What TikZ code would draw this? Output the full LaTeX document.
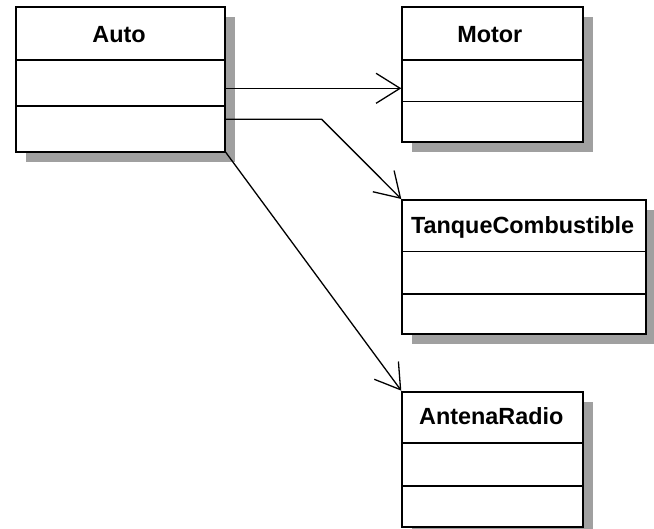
\documentclass[tikz,border=0pt]{standalone}
\usepackage{fontspec}
\setmainfont{Liberation Sans}
\usetikzlibrary{arrows.meta,shadows}
\definecolor{shadowgray}{RGB}{160,160,160}
\begin{document}
\begin{tikzpicture}[x=1pt,y=-1pt,
  umlclass/.style={draw=black, line width=2pt, fill=white, anchor=north west,
    inner sep=0pt, outer sep=0pt,
    drop shadow={shadow xshift=10pt, shadow yshift=-10pt, fill=shadowgray, opacity=1}},
  divider/.style={line width=1.6pt},
  classname/.style={font=\fontsize{23.4}{28}\selectfont\bfseries, anchor=base, inner sep=0pt},
  assoc/.style={line width=1.3pt, -{Straight Barb[length=24pt,width=30pt,line width=1.3pt]}}
]
\useasboundingbox (0,0) rectangle (654,529);

% class boxes
\node[umlclass, minimum width=209.6pt, minimum height=144.4pt] (auto) at (15.7,7.3) {};
\node[umlclass, minimum width=181pt, minimum height=134.4pt] (motor) at (402.3,7.3) {};
\node[umlclass, minimum width=243.7pt, minimum height=134pt] (tanque) at (402.3,200) {};
\node[umlclass, minimum width=181pt, minimum height=135pt] (antena) at (402.3,391.7) {};

% compartment dividers
\draw[divider] ([yshift=-52.7pt]auto.north west) -- ([yshift=-52.7pt]auto.north east);
\draw[divider] ([yshift=-98.7pt]auto.north west) -- ([yshift=-98.7pt]auto.north east);
\draw[divider] ([yshift=-52.7pt]motor.north west) -- ([yshift=-52.7pt]motor.north east);
\draw[divider] ([yshift=-94.4pt]motor.north west) -- ([yshift=-94.4pt]motor.north east);
\draw[divider] ([yshift=-51.7pt]tanque.north west) -- ([yshift=-51.7pt]tanque.north east);
\draw[divider] ([yshift=-94pt]tanque.north west) -- ([yshift=-94pt]tanque.north east);
\draw[divider] ([yshift=-51.6pt]antena.north west) -- ([yshift=-51.6pt]antena.north east);
\draw[divider] ([yshift=-94.3pt]antena.north west) -- ([yshift=-94.3pt]antena.north east);

% class names
\node[classname] (autoname) at ([yshift=-35.4pt,xshift=-1.5pt]auto.north) {Auto};
\node[classname] (motorname) at ([yshift=-35.4pt,xshift=-3pt]motor.north) {Motor};
\node[classname] (tanquename) at ([yshift=-34pt,xshift=-1.5pt]tanque.north) {TanqueCombustible};
\node[classname] (antenaname) at ([yshift=-33.3pt,xshift=-1.5pt]antena.north) {AntenaRadio};

% associations
\coordinate (bend) at ([yshift=-112pt,xshift=96.4pt]auto.north east);
\draw[assoc] ([yshift=-81pt]auto.north east) -- ([yshift=-81pt,xshift=-1pt]motor.north west);
\draw[assoc] ([yshift=-112pt]auto.north east) -- (bend) -- ([xshift=-1pt,yshift=1pt]tanque.north west);
\draw[assoc] (auto.south east) -- ([xshift=-1pt,yshift=1pt]antena.north west);
\end{tikzpicture}
\end{document}
